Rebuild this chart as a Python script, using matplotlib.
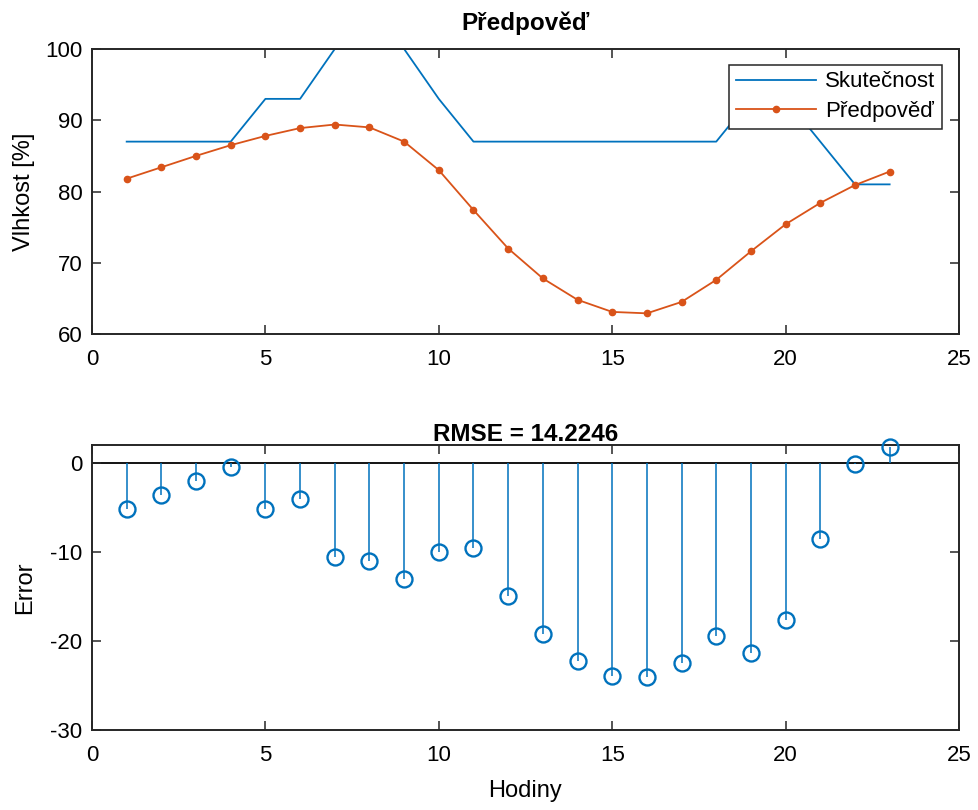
import matplotlib
matplotlib.use("Agg")
import matplotlib.pyplot as plt
import numpy as np

plt.rcParams['font.family'] = ['Liberation Sans', 'DejaVu Sans']
plt.rcParams['axes.unicode_minus'] = False

hours = list(range(1, 24))
actual = [87, 87, 87, 87, 93, 93, 100, 100, 100, 93, 87, 87, 87, 87, 87, 87, 87, 87, 93, 93, 87, 81, 81]
forecast = [81.8, 83.4, 85.0, 86.5, 87.8, 88.9, 89.4, 89.0, 87.0, 83.0, 77.4, 72.0, 67.8, 64.8,
            63.1, 62.9, 64.5, 67.6, 71.6, 75.4, 78.4, 80.9, 82.8]
error = [f - a for f, a in zip(forecast, actual)]
rmse_text = "RMSE = 14.2246"

blue = '#0072BD'
orange = '#D95319'

fig = plt.figure(figsize=(9.79, 8.10), dpi=100)
W, H = 979, 810
ax1 = fig.add_axes([92 / W, 1 - 334 / H, (959 - 92) / W, (334 - 49) / H])
ax2 = fig.add_axes([92 / W, 1 - 730 / H, (959 - 92) / W, (730 - 445) / H])

ax1.plot(hours, actual, color=blue, lw=1.3, label='Skutečnost')
ax1.plot(hours, forecast, color=orange, lw=1.3, marker='o', ms=4.5, label='Předpověď')
ax1.set_xlim(0, 25)
ax1.set_ylim(60, 100)
ax1.set_yticks([60, 70, 80, 90, 100])
ax1.set_xticks([0, 5, 10, 15, 20, 25])
ax1.set_ylabel('Vlhkost [%]', fontsize=17, labelpad=7)
ax1.set_title('Předpověď', fontsize=17.5, fontweight='bold', pad=14)
leg = ax1.legend(loc='upper right', bbox_to_anchor=(0.98, 0.945), fontsize=16, fancybox=False,
                 edgecolor='#262626', framealpha=1, borderpad=0.3, labelspacing=0.4,
                 handlelength=3.6, handletextpad=0.4, borderaxespad=0)
leg.get_frame().set_linewidth(1.1)

ax2.axhline(0, color='black', lw=1.3, zorder=1)
ax2.vlines(hours, 0, error, color=blue, lw=1.1, zorder=2)
ax2.plot(hours, error, linestyle='none', marker='o', ms=11.5, mfc='none', mec=blue, mew=1.7,
         zorder=3, clip_on=False)
ax2.set_xlim(0, 25)
ax2.set_ylim(-30, 2)
ax2.set_yticks([-30, -20, -10, 0])
ax2.set_xticks([0, 5, 10, 15, 20, 25])
ax2.set_ylabel('Error', fontsize=17, labelpad=10)
ax2.set_xlabel('Hodiny', fontsize=17, labelpad=10)
ax2.set_title(rmse_text, fontsize=17.5, fontweight='bold', pad=3)

for ax in (ax1, ax2):
    ax.tick_params(direction='in', top=True, right=True, labelsize=16, length=6.5, width=1.1,
                   colors='#262626', labelcolor='black')
    ax.tick_params(axis='x', pad=11)
    ax.tick_params(axis='y', pad=7)
    for s in ax.spines.values():
        s.set_linewidth(1.4)
        s.set_color('#262626')

fig.savefig('out.png', dpi=100)
